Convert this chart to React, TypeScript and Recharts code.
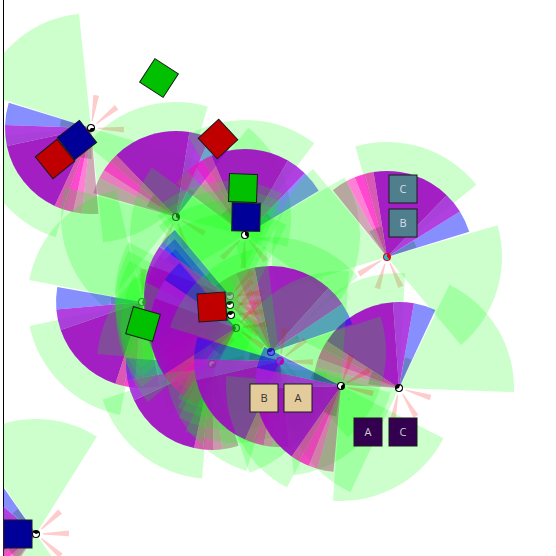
import { ScatterChart, Scatter, XAxis, YAxis, Sector } from 'recharts';

// stations in paint order: position, heading of the fan (degrees, ccw from east), marker colours
const stationX = [91, 176, 245, 387, 399, 271, 36, 142, 212, 231, 230, 230, 236, 280, 341];
const stationY = [128, 217, 235, 257, 388, 352, 534, 302, 364, 315, 305, 296, 328, 361, 386];
const headings = [219, 108, 87, 73, 121, 75, 181, 226, 232, 186, 186, 186, 187, 220, 209];
const markerFill = ['#000', '#0a7a0a', '#000', '#f00010', '#000', '#1a1aa8', '#000', '#20a020', '#8a30a0', '#000', '#103810', '#4f8f4f', '#108a10', '#c000b0', '#000'];
const markerMark = ['#fff', '#6fe06f', '#fff', '#10c8d8', '#fff', '#6060ff', '#fff', '#70f070', '#a860c0', '#fff', '#fff', '#a0c8a0', '#50e050', '#5050e8', '#fff'];
const markerTurn = [0, 90, 90, 90, 200, 180, 150, 60, 20, 170, 170, 170, 250, 30, 40];
const stations = stationX.map((x, i) => ({ x, y: stationY[i], heading: headings[i], fill: markerFill[i], mark: markerMark[i], turn: markerTurn[i] }));

// fan bands relative to the heading: from, to, colour, opacity
const bandFrom = [-56, -41, -27, 26, 32, 39, 45];
const bandTo = [-41, -27, 26, 32, 39, 45, 56];
const bandColor = ['#0010ff', '#a21eda', '#9e07c2', '#de13aa', '#ff00be', '#ff00b0', '#a15171'];
const bandAlpha = [0.47, 0.85, 0.9, 0.7, 0.72, 0.5, 0.5];

const greenFrom = [-123, -34, 57];
const greenTo = [-57, 33, 124];
const rayCentre = [138, 180, 222];
const frontFrom = [-55, 27];
const frontTo = [-42, 52];

const boxX = [159, 218, 55, 77, 243, 246, 212, 143, 403, 403, 264, 298, 368, 403, 18];
const boxY = [78, 139, 159, 140, 188, 217, 307, 324, 189, 223, 398, 398, 432, 432, 534];
const boxTurn = [33, 47, -39, -38, 2, 1, -4, 16, 0, 0, 0, 0, 0, 0, 0];
const boxColor = ['#00c000', '#c00000', '#c00000', '#000098', '#00c000', '#000098', '#c00000', '#00c000', '#4f7f8c', '#4f7f8c', '#e3cb9b', '#e3cb9b', '#33004f', '#33004f', '#000098'];
const boxLabel = ['', '', '', '', '', '', '', '', 'C', 'B', 'B', 'A', 'A', 'C', ''];
const boxText = ['', '', '', '', '', '', '', '', '#dde', '#dde', '#333', '#333', '#ccc', '#ccc', ''];
const boxes = boxX.map((x, i) => ({ x, y: boxY[i], turn: boxTurn[i], color: boxColor[i], label: boxLabel[i], text: boxText[i] }));

const FAN_R = 86;
const GREEN_R = 115;
const RAY_R = 33;
const FRONT_R = 31;
const CLIP = 'url(#plot-clip)';

// one station: its green lobes, then the coloured fan, then the short rays
function StationShape({ cx, cy, payload }: any) {
  const h = payload.heading;
  return (
    <g clipPath={CLIP}>
      {greenFrom.map((from, i) => (
        <Sector key={i} cx={cx} cy={cy} innerRadius={0} outerRadius={GREEN_R} startAngle={h + from} endAngle={h + greenTo[i]} fill="#00ff00" fillOpacity={0.2} />
      ))}
      {bandFrom.map((from, i) => (
        <Sector key={i} cx={cx} cy={cy} innerRadius={0} outerRadius={FAN_R} startAngle={h + from} endAngle={h + bandTo[i]} fill={bandColor[i]} fillOpacity={bandAlpha[i]} />
      ))}
      {rayCentre.map((c) => (
        <Sector key={c} cx={cx} cy={cy} innerRadius={7} outerRadius={RAY_R} startAngle={h + c - 5} endAngle={h + c + 5} fill="#ff0000" fillOpacity={0.2} />
      ))}
      {frontFrom.map((from, i) => (
        <Sector key={from} cx={cx} cy={cy} innerRadius={0} outerRadius={FRONT_R} startAngle={h + from} endAngle={h + frontTo[i]} fill="#005000" fillOpacity={0.22} />
      ))}
    </g>
  );
}

function MarkerShape({ cx, cy, payload }: any) {
  return (
    <g>
      <circle cx={cx} cy={cy} r={4} fill={payload.fill} />
      <Sector cx={cx} cy={cy} innerRadius={0} outerRadius={3} startAngle={payload.turn} endAngle={payload.turn + 230} fill={payload.mark} />
    </g>
  );
}

function BoxShape({ cx, cy, payload }: any) {
  return (
    <g transform={`rotate(${payload.turn} ${cx} ${cy})`}>
      <rect x={cx - 14} y={cy - 14} width={28} height={28} fill={payload.color} stroke="#1a1a1a" strokeWidth={1} />
      {payload.label ? (
        <text x={cx} y={cy + 4} textAnchor="middle" fontSize={11} fontFamily="Open Sans" fill={payload.text}>{payload.label}</text>
      ) : null}
    </g>
  );
}

export default function App() {
  return (
    <div style={{ position: 'absolute', left: 0, top: 0, width: 556, height: 556, background: '#fff' }}>
      <ScatterChart width={556} height={556} margin={{ top: 0, right: 0, bottom: 0, left: 2.5 }}>
        <defs>
          <clipPath id="plot-clip">
            <rect x={3.5} y={0} width={553} height={556} />
          </clipPath>
        </defs>
        <XAxis type="number" dataKey="x" domain={[3.5, 556]} hide />
        <YAxis type="number" dataKey="y" domain={[0, 556]} reversed width={1} tick={false} axisLine={{ stroke: '#000', strokeWidth: 1 }} tickLine={false} />
        <Scatter data={stations} shape={StationShape} isAnimationActive={false} />
        <Scatter data={stations} shape={MarkerShape} isAnimationActive={false} />
        <Scatter data={boxes} shape={BoxShape} isAnimationActive={false} />
      </ScatterChart>
    </div>
  );
}
